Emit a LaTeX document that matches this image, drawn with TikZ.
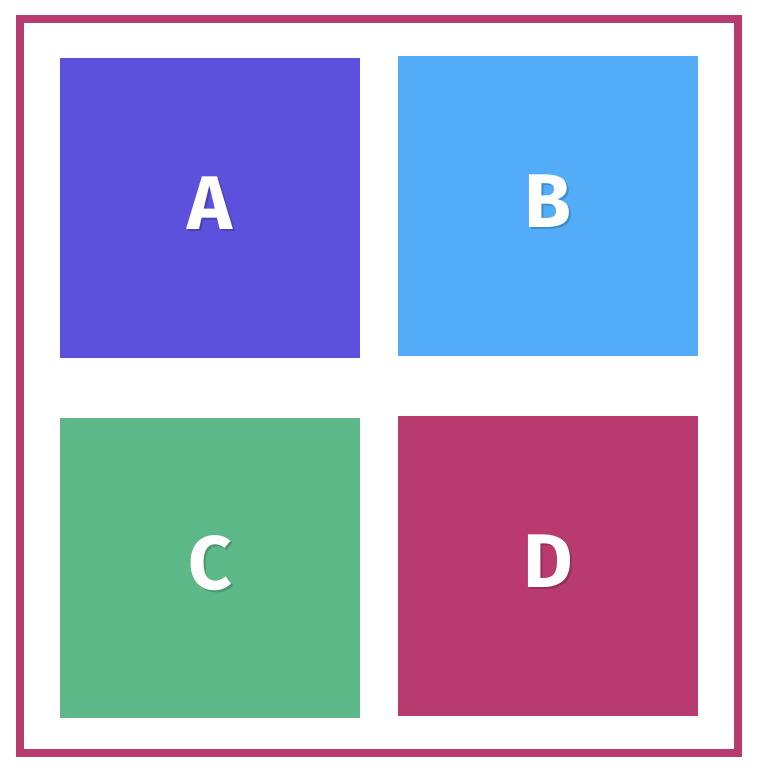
\documentclass[tikz,border=0pt]{standalone}
\usepackage{fontspec}
\setmainfont{Fira Sans}
\definecolor{viola}{RGB}{91,81,220}
\definecolor{azzurro}{RGB}{82,172,248}
\definecolor{verde}{RGB}{92,184,134}
\definecolor{lampone}{RGB}{184,58,110}
\tikzset{
  quadro/.style={minimum width=300pt, minimum height=300pt, inner sep=0pt, anchor=north west},
  lettera/.style={text=white, font=\fontsize{76}{76}\selectfont\bfseries},
  ombra/.style={text=black, opacity=0.18, font=\fontsize{76}{76}\selectfont\bfseries}
}
\begin{document}
\begin{tikzpicture}[x=1pt, y=-1pt]
        \useasboundingbox (0,0) rectangle (757,770);
        % Cornice
        \draw[line width=8pt, lampone] (20,19) rectangle (737.5,753);

        % Quadri
        \node[quadro, fill=viola] (qa) at (60,58) {};
        \node[quadro, fill=azzurro] (qb) at (398,56) {};
        \node[quadro, fill=verde] (qc) at (60,418) {};
        \node[quadro, fill=lampone] (qd) at (398,416) {};

        % Lettere con ombra
        \foreach \q/\l in {qa/A, qb/B, qc/C, qd/D} {
          \node[ombra] (o\l) at ([shift={(2pt,3pt)}]\q.center) {\l};
          \node[lettera] (l\l) at ([yshift=5pt]\q.center) {\l};
        }
    \end{tikzpicture}
\end{document}
